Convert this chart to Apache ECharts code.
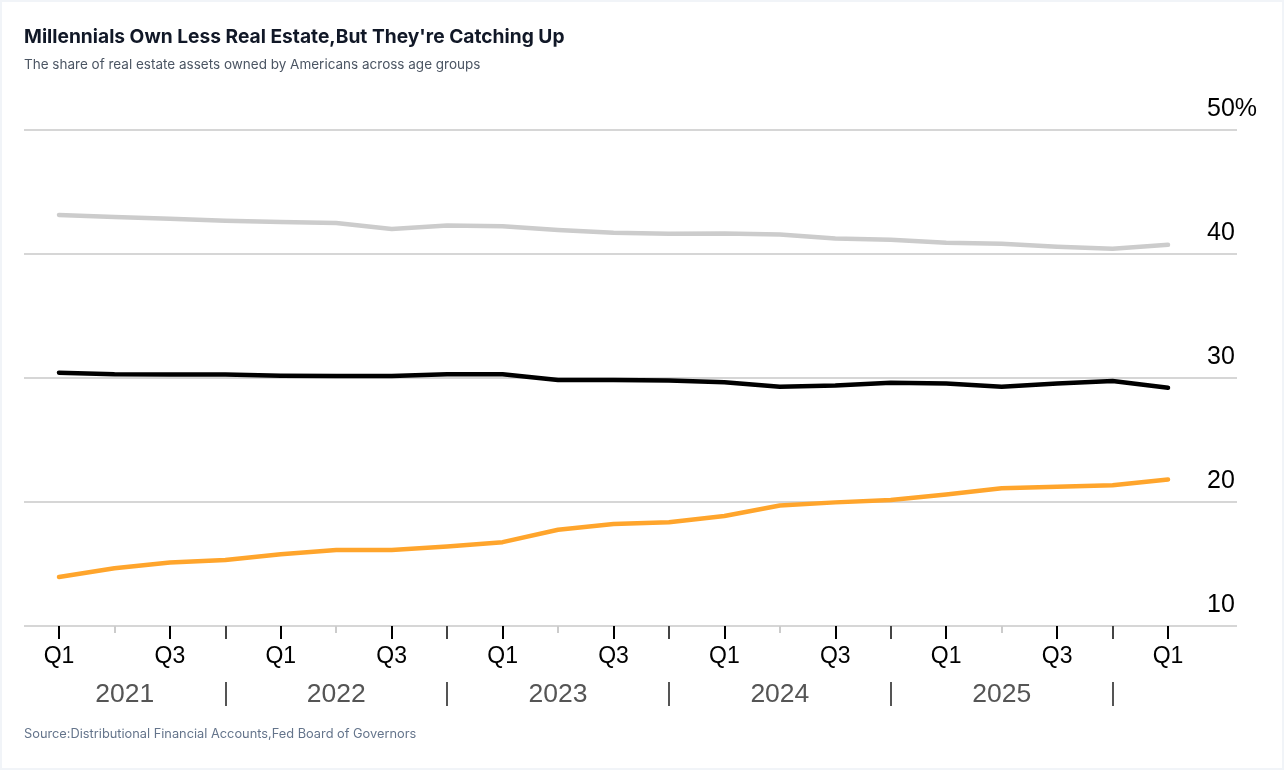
<!DOCTYPE html>
<html>
<head>
<meta charset="utf-8">
<script src="https://cdn.jsdelivr.net/npm/echarts@6/dist/echarts.min.js"></script>
<style>
  html, body { margin: 0; padding: 0; background: #f1f4f8; }
  #chart { position: absolute; left: 2px; top: 2px; width: 1280px; height: 766px; background: #ffffff; }
</style>
</head>
<body>
<div id="chart"></div>
<script>
// ---- data ----
const periods = [
  '2021 Q1','2021 Q2','2021 Q3','2021 Q4',
  '2022 Q1','2022 Q2','2022 Q3','2022 Q4',
  '2023 Q1','2023 Q2','2023 Q3','2023 Q4',
  '2024 Q1','2024 Q2','2024 Q3','2024 Q4',
  '2025 Q1','2025 Q2','2025 Q3','2025 Q4',
  '2026 Q1'
];
const years = ['2021', '2022', '2023', '2024', '2025'];
const boomers = [43.15, 42.98, 42.85, 42.68, 42.58, 42.50, 42.02, 42.30, 42.24, 41.94, 41.72,
                 41.64, 41.66, 41.58, 41.25, 41.15, 40.90, 40.82, 40.58, 40.42, 40.74];
const genX = [30.43, 30.30, 30.28, 30.28, 30.18, 30.17, 30.16, 30.30, 30.30, 29.84, 29.84,
              29.80, 29.65, 29.30, 29.40, 29.62, 29.55, 29.30, 29.55, 29.76, 29.22];
const millennials = [13.95, 14.65, 15.12, 15.33, 15.78, 16.13, 16.13, 16.42, 16.76, 17.76, 18.23,
                     18.37, 18.87, 19.72, 19.97, 20.16, 20.60, 21.10, 21.23, 21.35, 21.82];
const yTickLabels = ['10', '20', '30', '40', '50%'];

// ---- derived ----
const quarterOf = periods.map(p => p.split(' ')[1]);
const idxWhere = q => quarterOf.map((v, i) => v === q ? i : -1).filter(i => i >= 0);
const labelIdx = quarterOf.map((v, i) => (v === 'Q1' || v === 'Q3') ? i : -1).filter(i => i >= 0);
const q2Idx = idxWhere('Q2');
const q4Idx = idxWhere('Q4');
const X_MIN = -0.631, X_MAX = 21.244;
const yearPos = years.map(y => {
  const idx = periods.map((p, i) => p.startsWith(y) ? i : -1).filter(i => i >= 0);
  const first = idx[0], last = idx[idx.length - 1];
  return (Math.max(X_MIN, first - 1) + last) / 2;
});
const toPairs = arr => arr.map((v, i) => [i, v]);

const AXIS_FONT = "'Liberation Sans', Arial, Helvetica, sans-serif";

function baseX(extra) {
  return Object.assign({
    type: 'value', min: X_MIN, max: X_MAX, position: 'bottom',
    axisLine: { show: false }, splitLine: { show: false },
    axisLabel: { show: false }, axisTick: { show: false }
  }, extra);
}

const chart = echarts.init(document.getElementById('chart'), null, { renderer: 'canvas' });
chart.setOption({
  animation: false,
  backgroundColor: '#ffffff',
  title: [
    { text: "Millennials Own Less Real Estate,But They're Catching Up", left: 22, top: 24, padding: 0,
      textStyle: { fontFamily: 'Inter', fontWeight: 700, fontSize: 19.2, lineHeight: 22, color: '#111827' } },
    { text: 'The share of real estate assets owned by Americans across age groups', left: 22, top: 55, padding: 0,
      textStyle: { fontFamily: 'Inter', fontWeight: 400, fontSize: 13.5, lineHeight: 16, color: '#4b5563' } },
    { text: 'Source:Distributional Financial Accounts,Fed Board of Governors', left: 22, top: 725, padding: 0,
      textStyle: { fontFamily: 'Inter', fontWeight: 400, fontSize: 12.8, lineHeight: 14, color: '#64748b' } }
  ],
  grid: { left: 22, right: 45, top: 128, bottom: 142, containLabel: false },
  xAxis: [
    baseX({
      axisTick: { show: true, customValues: labelIdx, length: 13, lineStyle: { color: '#000', width: 2 } },
      axisLabel: { show: true, customValues: labelIdx, margin: 19, fontFamily: AXIS_FONT, fontSize: 23, color: '#000',
        formatter: v => quarterOf[Math.round(v)] }
    }),
    baseX({
      axisTick: { show: true, customValues: q2Idx, length: 7, lineStyle: { color: '#cccccc', width: 2 } }
    }),
    baseX({
      axisTick: { show: true, customValues: q4Idx, length: 13, lineStyle: { color: '#444444', width: 2 } }
    }),
    baseX({
      offset: 56,
      axisTick: { show: true, customValues: q4Idx, length: 24, lineStyle: { color: '#555555', width: 2 } },
      axisLabel: { show: true, customValues: yearPos, margin: -1, fontFamily: AXIS_FONT, fontSize: 26.5, color: '#555555',
        formatter: v => { const k = yearPos.findIndex(p => Math.abs(p - v) < 1e-6); return k >= 0 ? years[k] : ''; } }
    })
  ],
  yAxis: {
    type: 'value', position: 'right', min: 10, max: 50, interval: 10,
    axisLine: { show: false }, axisTick: { show: false },
    splitLine: { show: true, lineStyle: { color: '#c8c8c8', width: 1.5 } },
    axisLabel: {
      margin: -30, align: 'left', verticalAlign: 'bottom', lineHeight: 41,
      fontFamily: AXIS_FONT, fontSize: 25, color: '#000',
      formatter: v => yTickLabels[Math.round((v - 10) / 10)]
    }
  },
  series: [
    { name: 'Baby Boomers', type: 'line', data: toPairs(boomers), symbol: 'none', xAxisIndex: 0,
      lineStyle: { color: '#cccccc', width: 4.5, cap: 'round', join: 'round' }, z: 3 },
    { name: 'Gen X', type: 'line', data: toPairs(genX), symbol: 'none', xAxisIndex: 0,
      lineStyle: { color: '#000000', width: 4.5, cap: 'round', join: 'round' }, z: 3 },
    { name: 'Millennials', type: 'line', data: toPairs(millennials), symbol: 'none', xAxisIndex: 0,
      lineStyle: { color: '#ffa52c', width: 4.5, cap: 'round', join: 'round' }, z: 3 }
  ]
});
</script>
</body>
</html>
